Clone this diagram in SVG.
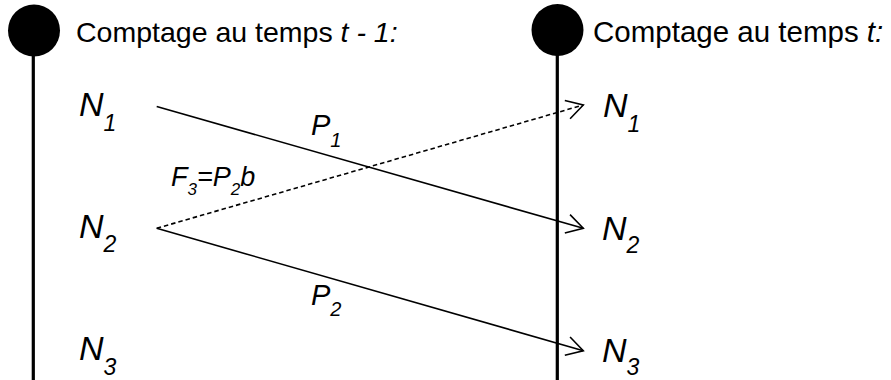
<svg xmlns="http://www.w3.org/2000/svg" width="891" height="380" viewBox="0 0 891 380">
<defs>
<style>
text{font-family:"Liberation Sans",Arial,sans-serif;fill:#000}
.hd{font-size:28.5px}
.hd2{font-size:29.5px}
.it{font-style:italic}
.n{font-size:34px;font-style:italic}
.ns{font-size:23px}
.p{font-size:29px;font-style:italic}
.ps{font-size:20px}
.f{font-size:27px;font-style:italic}
.fs{font-size:17px}
.axis{stroke:#000;stroke-width:3.2;fill:none}
.flow{stroke:#000;stroke-width:1.6;fill:none;marker-end:url(#arr)}
.dash{stroke-dasharray:4.5,3}
</style>
<marker id="arr" markerUnits="userSpaceOnUse" viewBox="-20 -12 22 24" refX="0" refY="0" markerWidth="22" markerHeight="24" orient="auto">
<path d="M-16.5,-9.5 L0,0 L-16.5,9.5" fill="none" stroke="#000" stroke-width="1.6"/>
</marker>
</defs>
<g id="timeline-left">
<circle cx="34" cy="30.5" r="26" fill="#000"/>
<line class="axis" x1="33.3" y1="50" x2="33.3" y2="380"/>
<text class="hd" x="76" y="42">Comptage au temps <tspan class="it">t - 1:</tspan></text>
</g>
<g id="timeline-right">
<circle cx="557.5" cy="30" r="26" fill="#000"/>
<line class="axis" x1="557.3" y1="50" x2="557.3" y2="380"/>
<text class="hd2" x="593" y="42">Comptage au temps <tspan class="it">t:</tspan></text>
</g>
<g id="left-N1"><text class="n" x="79" y="116">N<tspan class="ns" dy="15">1</tspan></text></g>
<g id="left-N2"><text class="n" x="79" y="238">N<tspan class="ns" dy="14">2</tspan></text></g>
<g id="left-N3"><text class="n" x="79" y="360">N<tspan class="ns" dy="15">3</tspan></text></g>
<g id="right-N1"><text class="n" x="603" y="117">N<tspan class="ns" dy="15">1</tspan></text></g>
<g id="right-N2"><text class="n" x="602" y="240">N<tspan class="ns" dy="13">2</tspan></text></g>
<g id="right-N3"><text class="n" x="602" y="362">N<tspan class="ns" dy="13">3</tspan></text></g>
<g id="connectors">
<line class="flow" x1="156.7" y1="106.5" x2="583.3" y2="228.3"/>
<line class="flow" x1="156.7" y1="228.3" x2="583.3" y2="350.7"/>
<line class="flow dash" x1="156.7" y1="228.3" x2="583.3" y2="105"/>
</g>
<g id="labels">
<text class="p" x="311" y="135">P<tspan class="ps" dy="12">1</tspan></text>
<text class="p" x="311" y="305">P<tspan class="ps" dy="11">2</tspan></text>
<text class="f" x="171" y="186">F<tspan class="fs" dy="9">3</tspan><tspan dy="-9">=P</tspan><tspan class="fs" dy="9">2</tspan><tspan dy="-9">b</tspan></text>
</g>
</svg>
